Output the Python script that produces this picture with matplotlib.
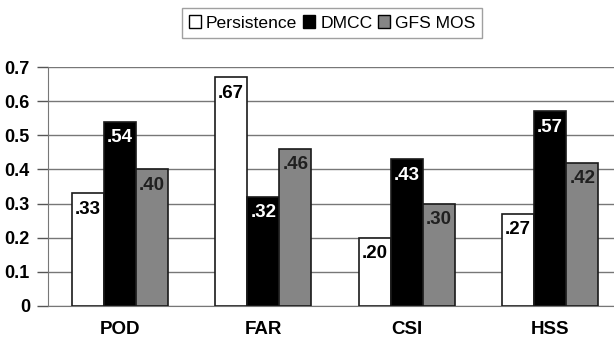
import numpy as np
import matplotlib.pyplot as plt
from matplotlib.patches import Patch

plt.rcParams['font.family'] = ['Liberation Sans', 'DejaVu Sans']

categories = ['POD', 'FAR', 'CSI', 'HSS']
persistence = [0.33, 0.67, 0.20, 0.27]
dmcc = [0.54, 0.32, 0.43, 0.57]
gfs_mos = [0.40, 0.46, 0.30, 0.42]
labels = ['Persistence', 'DMCC', 'GFS MOS']
yticks = [0, 0.1, 0.2, 0.3, 0.4, 0.5, 0.6, 0.7]
ytick_labels = ['0', '0.1', '0.2', '0.3', '0.4', '0.5', '0.6', '0.7']

fig = plt.figure(figsize=(6.14, 3.41), dpi=100)
ax = fig.add_axes([48 / 614, 1 - 306 / 341, (622 - 48) / 614, (306 - 67) / 341])

x = np.arange(len(categories))
w = 0.223
series = [persistence, dmcc, gfs_mos]
faces = ['white', 'black', '#858585']
txt_colors = ['black', 'white', '#202020']

for i, (vals, fc, tc) in enumerate(zip(series, faces, txt_colors)):
    pos = x + (i - 1) * w
    ax.bar(pos, vals, w, color=fc, edgecolor='#1a1a1a', linewidth=1.2, zorder=3)
    for p, v in zip(pos, vals):
        ax.text(p, v - 0.047, ('%.2f' % v)[1:], ha='center', va='center',
                color=tc, fontsize=13.5, fontweight='bold', zorder=4)

ax.set_xlim(-0.5, 3.5)
ax.set_ylim(0, 0.7)
ax.set_yticks(yticks)
ax.set_yticklabels(ytick_labels, fontsize=13, fontweight='bold')
ax.set_xticks(x)
ax.set_xticklabels(categories, fontsize=13.5, fontweight='bold')
ax.tick_params(axis='x', length=0, pad=11)
ax.tick_params(axis='y', length=8, color='#555555', width=1, pad=5)
ax.yaxis.grid(True, color='#777777', linewidth=1, zorder=0)
for s in ['top', 'right']:
    ax.spines[s].set_visible(False)
ax.spines['left'].set_color('#777777')
ax.spines['bottom'].set_color('#777777')

handles = [Patch(facecolor=fc, edgecolor='black', linewidth=1) for fc in faces]
leg = fig.legend(handles, labels, loc='center', bbox_to_anchor=(332 / 614, 1 - 23 / 341),
                 ncol=3, fontsize=12.6, frameon=True, fancybox=False,
                 handlelength=0.7, handleheight=0.7, handletextpad=0.3,
                 columnspacing=0.3, borderpad=0.4, borderaxespad=0)
leg.get_frame().set_edgecolor('#888888')
leg.get_frame().set_linewidth(1)

fig.savefig('out.png', dpi=100)
